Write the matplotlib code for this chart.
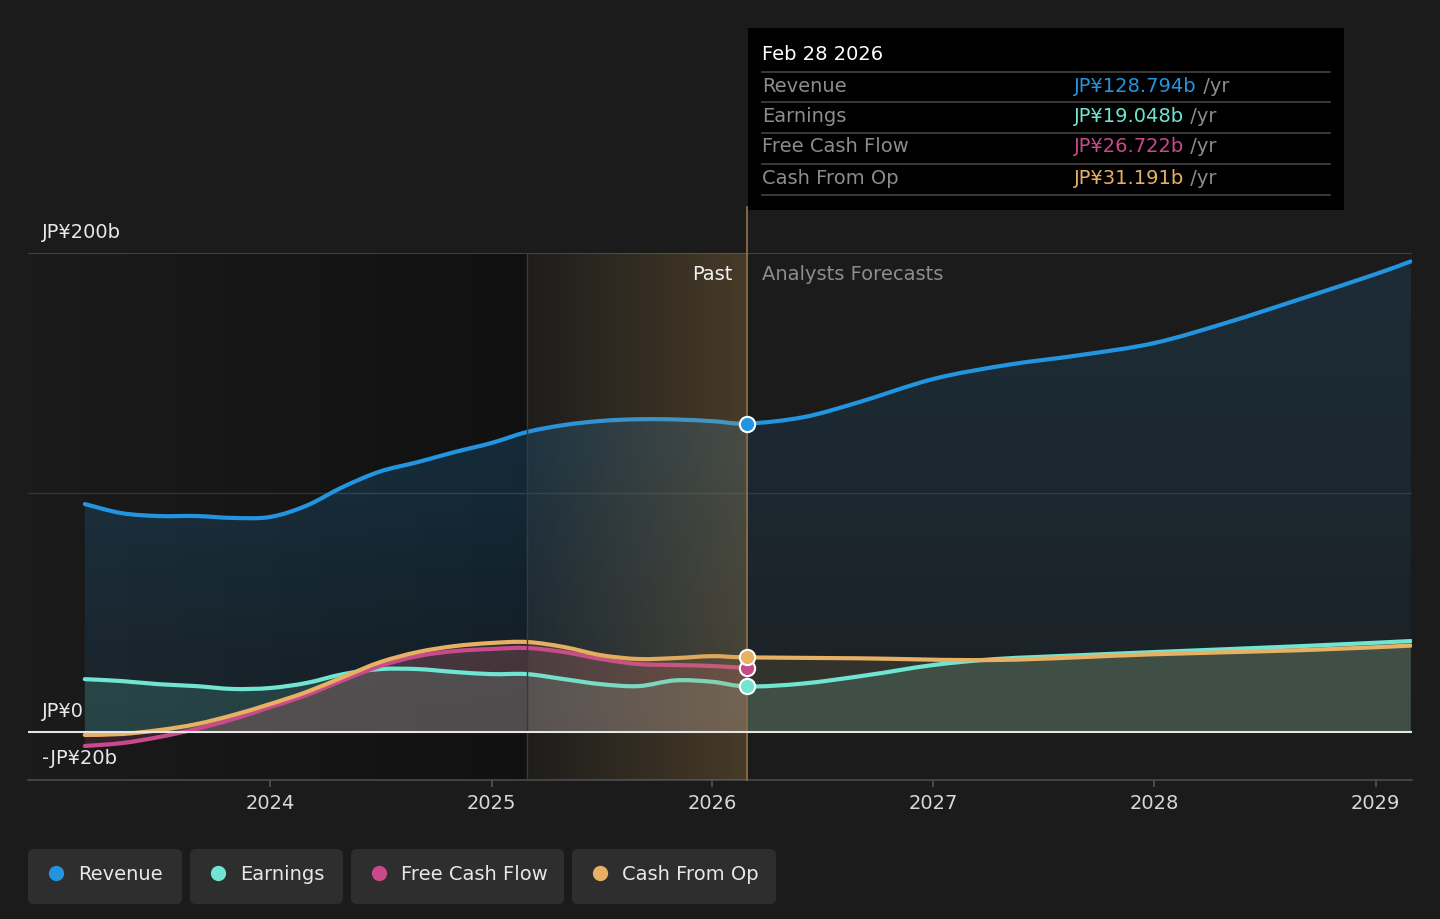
import numpy as np
import pandas as pd
import matplotlib
matplotlib.use("Agg")
import matplotlib.pyplot as plt
import matplotlib.dates as mdates
from matplotlib.path import Path
from matplotlib.patches import PathPatch, FancyBboxPatch, Rectangle

# ---- data (JP¥ billions, trailing 12 months) ----
past_dates = ["2023-03-01", "2023-05-01", "2023-07-01", "2023-09-01", "2023-11-01",
              "2024-01-01", "2024-03-01", "2024-05-01", "2024-07-01", "2024-09-01",
              "2024-11-01", "2025-01-01", "2025-03-01", "2025-05-01", "2025-07-01",
              "2025-09-01", "2025-11-01", "2026-01-01", "2026-02-28"]
revenue_past = [95.2, 91.4, 90.2, 90.2, 89.4, 89.8, 94.5, 102.4, 108.8, 112.7,
                116.9, 120.7, 125.3, 128.2, 129.9, 130.6, 130.5, 129.8, 128.794]
earnings_past = [22.1, 21.3, 20.0, 19.2, 18.0, 18.4, 20.5, 24.2, 26.3, 26.3,
                 25.1, 24.2, 24.2, 22.1, 20.0, 19.2, 21.6, 21.0, 19.048]
fcf_past = [-5.8, -4.6, -2.1, 1.3, 5.4, 10.4, 15.4, 21.7, 27.6, 31.7,
            33.8, 34.7, 35.1, 33.4, 30.5, 28.4, 28.0, 27.6, 26.722]
cfo_past = [-1.2, -0.8, 0.8, 3.3, 7.1, 11.7, 16.7, 23.0, 29.2, 33.4,
            35.9, 37.2, 37.6, 35.5, 32.1, 30.5, 30.9, 31.7, 31.191]

rev_fc_dates = ["2026-02-28", "2026-06-01", "2026-09-01", "2027-01-01", "2027-05-01",
                "2027-09-01", "2028-01-01", "2028-05-01", "2028-09-01", "2029-01-01",
                "2029-02-28"]
revenue_fc = [128.794, 131.5, 137.8, 147.4, 153.2, 157.4, 162.4, 171.0, 181.0, 191.2, 196.5]

earn_fc_dates = ["2026-02-28", "2026-06-01", "2026-09-15", "2027-01-01", "2027-04-15",
                 "2027-09-01", "2028-01-01", "2028-09-01", "2029-02-28"]
earnings_fc = [19.048, 20.3, 23.8, 28.0, 30.5, 32.1, 33.4, 35.9, 38.0]

cfo_fc_dates = ["2026-02-28", "2026-09-01", "2027-04-15", "2028-01-01", "2028-09-01",
                "2029-02-28"]
cfo_fc = [31.191, 30.8, 30.1, 32.5, 34.2, 36.1]

names = ["Revenue", "Earnings", "Free Cash Flow", "Cash From Op"]
colors = ["#2394df", "#70e5d2", "#c84a8c", "#e8b062"]
tip_values = ["JP¥128.794b", "JP¥19.048b", "JP¥26.722b", "JP¥31.191b"]
year_ticks = ["2024", "2025", "2026", "2027", "2028", "2029"]
y_labels = [(200, "JP¥200b"), (0, "JP¥0"), (-20, "-JP¥20b")]

band_start = "2025-02-28"
today = "2026-02-28"

BG = "#1b1b1b"
W, H = 1440, 919
FS = 14


def dnum(s):
    return mdates.date2num(pd.to_datetime(s))


def curve(xs, ys):
    # catmull-rom style bezier through the points
    p = np.column_stack([xs, ys])
    verts = [p[0]]
    codes = [Path.MOVETO]
    n = len(p)
    for i in range(n - 1):
        p0 = p[i - 1] if i > 0 else p[i]
        p3 = p[i + 2] if i + 2 < n else p[i + 1]
        c1 = p[i] + (p[i + 1] - p0) / 6.0
        c2 = p[i + 1] - (p3 - p[i]) / 6.0
        verts += [c1, c2, p[i + 1]]
        codes += [Path.CURVE4] * 3
    return verts, codes


def draw_series(ax, dates, vals, color, lw=3.0, fill_alpha=0.15, z=3):
    xs = np.array([dnum(d) for d in dates])
    ys = np.array(vals, dtype=float)
    verts, codes = curve(xs, ys)
    line = PathPatch(Path(verts, codes), fill=False, edgecolor=color, lw=lw,
                     capstyle="round", joinstyle="round", zorder=z)
    ax.add_patch(line)
    fv = verts + [(xs[-1], 0), (xs[0], 0), (xs[0], ys[0])]
    fc = codes + [Path.LINETO, Path.LINETO, Path.CLOSEPOLY]
    fill = PathPatch(Path(fv, fc), facecolor=color, edgecolor="none",
                     alpha=fill_alpha, zorder=z - 1)
    ax.add_patch(fill)
    return fill


fig = plt.figure(figsize=(W / 100, H / 100), dpi=100, facecolor=BG)
ax = fig.add_axes([28 / W, (H - 780) / H, 1384 / W, 527 / H])
ax.set_facecolor(BG)

d2024 = dnum("2024-01-01")
per_px = (dnum("2025-01-01") - d2024) / 221.5
x0 = d2024 + (28 - 270) * per_px
x1 = d2024 + (1412 - 270) * per_px
ax.set_xlim(x0, x1)
ax.set_ylim(-20, 200)

xb = dnum(band_start)
xt = dnum(today)

# darkening of the past region
g = np.zeros((1, 256, 4))
g[..., 3] = np.linspace(0, 0.38, 256)
ax.imshow(g, extent=[x0, xb, -20, 200], aspect="auto", zorder=0.5, interpolation="bilinear")

# grid
ax.axhline(200, color="#4a4a4a", lw=1.2, zorder=1)
ax.axhline(100, color="#333333", lw=1.0, zorder=1)

# revenue with gradient fill (stronger in the past, softer in the forecast)
rev_dates = past_dates + rev_fc_dates[1:]
rev_vals = revenue_past + revenue_fc[1:]
rfill = draw_series(ax, rev_dates, rev_vals, colors[0], fill_alpha=0.0, z=6)
for (ea, eb, top, bot) in [(x0, xt, 0.28, 0.08), (xt, x1, 0.15, 0.055)]:
    gr = np.zeros((256, 1, 4))
    gr[..., 0], gr[..., 1], gr[..., 2] = 0.14, 0.58, 0.87
    gr[..., 3] = np.linspace(top, bot, 256)[:, None]
    im = ax.imshow(gr, extent=[ea, eb, 0, 200], aspect="auto", zorder=1.5,
                   interpolation="bilinear")
    im.set_clip_path(rfill)

draw_series(ax, past_dates + earn_fc_dates[1:], earnings_past + earnings_fc[1:],
            colors[1], fill_alpha=0.17, z=6)
draw_series(ax, past_dates, fcf_past, colors[2], fill_alpha=0.16, z=6)
draw_series(ax, past_dates + cfo_fc_dates[1:], cfo_past + cfo_fc[1:],
            colors[3], fill_alpha=0.12, z=6)

# highlighted last year band (over the lines, lightens them)
b = np.zeros((1, 256, 4))
b[..., 0], b[..., 1], b[..., 2] = 0.76, 0.57, 0.30
b[..., 3] = np.linspace(0.02, 0.27, 256)
ax.imshow(b, extent=[xb, xt, -20, 200], aspect="auto", zorder=7, interpolation="bilinear")
ax.axvline(xb, color="#3a3a3a", lw=1, zorder=7)
ax.plot([xt, xt], [-20, 219], color="#8a6d42", lw=1.3, zorder=7, clip_on=False)

ax.axhline(0, color="#e6e6e6", lw=1.5, zorder=8)

# today markers
for v, c in zip([revenue_past[-1], earnings_past[-1], fcf_past[-1], cfo_past[-1]], colors):
    ax.plot([xt], [v], "o", ms=11, mfc=c, mec="white", mew=1.5, zorder=10)

# axes styling
for s in ["top", "left", "right"]:
    ax.spines[s].set_visible(False)
ax.spines["bottom"].set_color("#4a4a4a")
ax.spines["bottom"].set_linewidth(1.2)
ax.set_yticks([])
ax.set_xticks([dnum(y + "-01-01") for y in year_ticks])
ax.set_xticklabels(year_ticks)
ax.tick_params(axis="x", colors="#555555", labelcolor="#d8d8d8", labelsize=FS,
               length=5, width=1.2, pad=5)

for v, lab in y_labels:
    ax.annotate(lab, xy=(0.0101, v), xycoords=("axes fraction", "data"),
                xytext=(0, 21), textcoords="offset pixels", va="center", ha="left",
                color="#e8e8e8", fontsize=FS, zorder=11, annotation_clip=False)

# overlay in pixel coordinates for tooltip, labels and legend
ov = fig.add_axes([0, 0, 1, 1], zorder=5)
ov.set_xlim(0, W)
ov.set_ylim(H, 0)
ov.axis("off")
ov.patch.set_alpha(0)

ov.text(733, 274, "Past", ha="right", va="center", color="#f0f0f0", fontsize=FS)
ov.text(762, 274, "Analysts Forecasts", ha="left", va="center", color="#8c8c8c", fontsize=FS)

ov.add_patch(Rectangle((748, 28), 596, 182, facecolor="black", edgecolor="none"))
ov.text(762, 55, "Feb 28 2026", ha="left", va="center", color="white", fontsize=FS)
for yy in [72, 102, 133, 164, 195]:
    ov.plot([762, 1330], [yy, yy], color="#444444", lw=1.2)
for i, (nm, val, c) in enumerate(zip(names, tip_values, colors)):
    yy = [86, 116, 147, 178][i]
    ov.text(762, yy, nm, ha="left", va="center", color="#8c8c8c", fontsize=FS)
    t = ov.text(1074, yy, val, ha="left", va="center", color=c, fontsize=FS)
    ov.annotate(" /yr", xy=(1, 0.5), xycoords=t, ha="left", va="center",
                color="#8c8c8c", fontsize=FS)

# legend chips
chips = [(28, 182), (190, 343), (351, 564), (572, 776)]
for (l, r), nm, c in zip(chips, names, colors):
    ov.add_patch(FancyBboxPatch((l, 849), r - l, 55, boxstyle="round,pad=0,rounding_size=6",
                                facecolor="#2e2e2e", edgecolor="none"))
    ov.plot([l + 28], [873], "o", ms=10, color=c)
    ov.text(l + 50, 874, nm, ha="left", va="center", color="#e8e8e8", fontsize=FS)

fig.savefig("out.png", dpi=100, facecolor=BG)
